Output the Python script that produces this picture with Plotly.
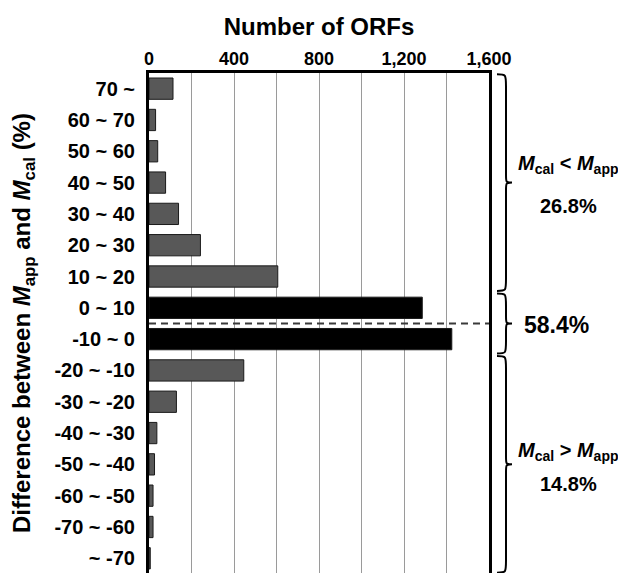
import plotly.graph_objects as go

# ---- data ----
categories = ["70 ~", "60 ~ 70", "50 ~ 60", "40 ~ 50", "30 ~ 40", "20 ~ 30", "10 ~ 20",
              "0 ~ 10", "-10 ~ 0",
              "-20 ~ -10", "-30 ~ -20", "-40 ~ -30", "-50 ~ -40", "-60 ~ -50", "-70 ~ -60", "~ -70"]
orf_counts = [113, 31, 41, 78, 139, 242, 606,
              1286, 1425,
              446, 129, 37, 26, 19, 19, 6]
central_bins = ["0 ~ 10", "-10 ~ 0"]
x_tick_values = [0, 400, 800, 1200, 1600]
group_first = ["70 ~", "0 ~ 10", "-20 ~ -10"]
group_last = ["10 ~ 20", "-10 ~ 0", "~ -70"]
group_relation = ["<i>M</i><sub>cal</sub> &lt; <i>M</i><sub>app</sub>", None,
                  "<i>M</i><sub>cal</sub> &gt; <i>M</i><sub>app</sub>"]
group_percent = ["26.8%", "58.4%", "14.8%"]

FONT = "Liberation Sans, Arial, Helvetica, sans-serif"
PAGE_OFFSET = 8  # default body margin of the html page
W, H = 626 - PAGE_OFFSET, 573 - PAGE_OFFSET
ML, MR, MT, MB = 141, 137, 65, 0
PW = W - ML - MR

idx = list(range(len(categories)))
colors = ["#000000" if c in central_bins else "#585858" for c in categories]

fig = go.Figure()
fig.add_trace(go.Bar(
    x=orf_counts, y=idx, orientation="h", width=0.68,
    marker=dict(color=colors, line=dict(color="#1a1a1a", width=1)),
    showlegend=False, hoverinfo="x+text", text=categories, textposition="none",
))

n = len(categories)
y_range = [n - 0.5 - 0.03, -0.5]

# dashed separator between the two central bins
sep = (categories.index(central_bins[0]) + categories.index(central_bins[1])) / 2
fig.add_shape(type="line", xref="x", yref="y", x0=0, x1=x_tick_values[-1], y0=sep, y1=sep,
              line=dict(color="#3a3a3a", width=2, dash="7px,5px"), layer="above")

def px2paper(px):
    # px measured on the page
    return (px - PAGE_OFFSET - ML) / PW

xl, xs, xt = px2paper(497), px2paper(506), px2paper(512)
for first, last, rel, pct in zip(group_first, group_last, group_relation, group_percent):
    y0 = categories.index(first) - 0.5 + 0.04
    y1 = categories.index(last) + 0.5 - 0.04
    ym = (y0 + y1) / 2
    h = 0.4
    path = (f"M {xl},{y0} C {xs},{y0} {xs},{y0} {xs},{y0 + h} "
            f"L {xs},{ym - h * 0.6} C {xs},{ym} {xs},{ym} {xt},{ym} "
            f"C {xs},{ym} {xs},{ym} {xs},{ym + h * 0.6} "
            f"L {xs},{y1 - h} C {xs},{y1} {xs},{y1} {xl},{y1}")
    fig.add_shape(type="path", xref="paper", yref="y", path=path,
                  line=dict(color="black", width=2))
    if rel is None:
        fig.add_annotation(xref="paper", yref="y", x=px2paper(556), y=ym, text=pct,
                           showarrow=False, xanchor="center", yanchor="middle", yshift=-2,
                           font=dict(family=FONT, size=23, color="black", weight="bold"))
    else:
        up = 18 if first == group_first[0] else 13
        dn = -23 if first == group_first[0] else -20
        fig.add_annotation(xref="paper", yref="y", x=px2paper(516), y=ym, text=rel,
                           showarrow=False, xanchor="left", yanchor="middle", yshift=up,
                           font=dict(family=FONT, size=20, color="black", weight="bold"))
        fig.add_annotation(xref="paper", yref="y", x=px2paper(568), y=ym, text=pct,
                           showarrow=False, xanchor="center", yanchor="middle", yshift=dn,
                           font=dict(family=FONT, size=20, color="black", weight="bold"))

fig.update_layout(
    width=W, height=H,
    margin=dict(l=ML, r=MR, t=MT, b=MB, autoexpand=False),
    paper_bgcolor="white", plot_bgcolor="white",
    font=dict(family=FONT, color="black"),
    bargap=0.3,
    xaxis=dict(
        side="top", range=[0, x_tick_values[-1]], tickvals=x_tick_values,
        tickformat=",", ticks="", ticklabelstandoff=-2,
        tickfont=dict(family=FONT, size=18, color="black", weight="bold"),
        showgrid=True, gridcolor="#9a9a9a", gridwidth=1,
        minor=dict(dtick=200, showgrid=True, gridcolor="#9a9a9a", gridwidth=1),
        showline=True, linecolor="black", linewidth=3, zeroline=False,
        title=dict(text="Number of ORFs", standoff=7,
                   font=dict(family=FONT, size=24, color="black", weight="bold")),
        fixedrange=True,
    ),
    yaxis=dict(
        range=y_range, tickvals=idx, ticktext=categories, ticks="",
        ticklabelstandoff=7,
        tickfont=dict(family=FONT, size=20, color="black", weight="bold"),
        showgrid=False, zeroline=False,
        showline=True, mirror=True, linecolor="black", linewidth=3,
        title=dict(text="Difference between <i>M</i><sub>app</sub> and <i>M</i><sub>cal</sub> (%)",
                   standoff=22,
                   font=dict(family=FONT, size=24, color="black", weight="bold")),
        fixedrange=True,
    ),
)

fig.write_html("out.html")
